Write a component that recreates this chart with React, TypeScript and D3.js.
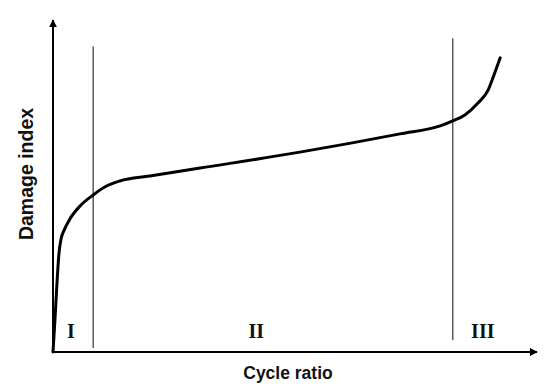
import React from 'react';
import * as d3 from 'd3';

// damage curve (cycle ratio 0..1, damage index 0..1)
const cycleRatio = [0, 0.004, 0.008, 0.012, 0.017, 0.023, 0.035, 0.056, 0.083, 0.107, 0.138, 0.2, 0.304, 0.51, 0.717, 0.8, 0.826, 0.851, 0.878, 0.899, 0.911, 0.924];
const damageIndex = [0, 0.096, 0.202, 0.292, 0.343, 0.367, 0.401, 0.44, 0.473, 0.497, 0.515, 0.53, 0.554, 0.602, 0.657, 0.681, 0.696, 0.714, 0.75, 0.789, 0.834, 0.886];

// stage boundaries and labels
const stageBounds = [0.083, 0.826];
const stageLabels = ['I', 'II', 'III'];
const stageLabelX = [0.037, 0.42, 0.888];

const W = 550;
const H = 392;

export default function App() {
  const x = d3.scaleLinear().domain([0, 1]).range([53, 537]);
  const y = d3.scaleLinear().domain([0, 1]).range([352, 20]);

  const pts: [number, number][] = cycleRatio.map((c, i) => [c, damageIndex[i]]);
  const line = d3.line<[number, number]>()
    .x(d => x(d[0]))
    .y(d => y(d[1]))
    .curve(d3.curveMonotoneX);

  return (
    <svg width={W} height={H} style={{position: 'absolute', left: 0, top: 0, background: '#fff'}}>
      <defs>
        <marker id="arr" viewBox="0 0 10 10" refX="9" refY="5" markerWidth="4" markerHeight="4" orient="auto">
          <path d="M0,0 L10,5 L0,10 z" fill="#000" />
        </marker>
      </defs>

      {/* stage separators */}
      <line x1={x(stageBounds[0])} x2={x(stageBounds[0])} y1={y(0.92)} y2={y(0.012)} stroke="#333" strokeWidth={1.2} />
      <line x1={x(stageBounds[1])} x2={x(stageBounds[1])} y1={y(0.945)} y2={y(0.036)} stroke="#333" strokeWidth={1.2} />

      {/* axes */}
      <line x1={x(0)} x2={x(1)} y1={y(0)} y2={y(0)} stroke="#000" strokeWidth={2} markerEnd="url(#arr)" />
      <line x1={x(0)} x2={x(0)} y1={y(0)} y2={y(1)} stroke="#000" strokeWidth={2} markerEnd="url(#arr)" />

      <path d={line(pts) || ''} fill="none" stroke="#000" strokeWidth={3} strokeLinejoin="round" strokeLinecap="round" />

      {stageLabels.map((s, i) => (
        <text key={s} x={x(stageLabelX[i])} y={338} textAnchor="middle"
          fontFamily="Liberation Serif" fontWeight="bold" fontSize={20} fill="#111">{s}</text>
      ))}

      <text x={288} y={379} textAnchor="middle" fontFamily="Liberation Sans" fontWeight="bold" fontSize={17.5} fill="#111">Cycle ratio</text>
      <text transform="translate(33,174) rotate(-90)" textAnchor="middle" fontFamily="Liberation Sans" fontWeight="bold" fontSize={19.5} fill="#111">Damage index</text>
    </svg>
  );
}
